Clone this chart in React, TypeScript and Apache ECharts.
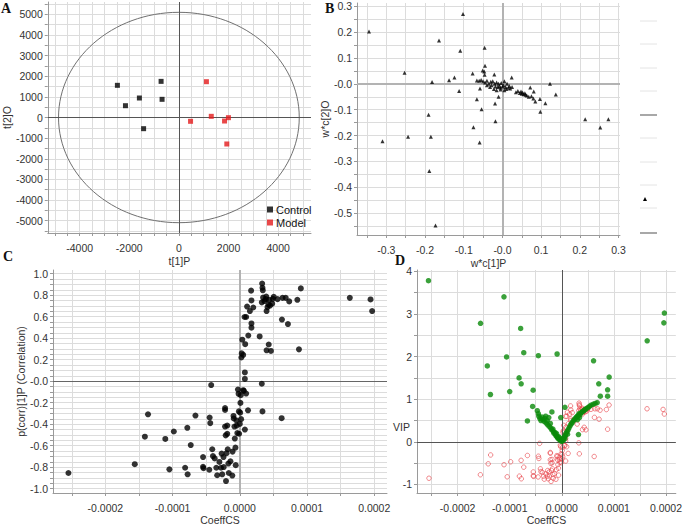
import React, { useEffect, useRef } from "react";
import * as echarts from "echarts";

// ---------- Panel A: OPLS-DA scores ----------
const controlScores: number[][] = [
  [-2478, 1560], [-2153, 572], [-1592, 945], [-717, 1752], [-678, 881], [-1422, -542],
];
const modelScores: number[][] = [
  [1109, 1736], [470, -185], [1305, 57], [1840, -170], [1996, -8], [1931, -1284],
];
const ellipseRadii = [4850, 5100];
const aXLabels = [-4000, -2000, 0, 2000, 4000];
const aYLabels = [-5000, -4000, -3000, -2000, -1000, 0, 1000, 2000, 3000, 4000, 5000];

// ---------- Panel B: loadings w*c ----------
const loadings: number[][] = [
  [-0.345, 0.203], [-0.102, 0.27], [-0.164, 0.168], [-0.109, 0.128], [-0.046, 0.14],
  [-0.253, 0.043], [-0.182, 0.007], [-0.138, 0.014], [-0.124, 0.025], [-0.112, -0.028],
  [-0.077, 0.04], [-0.045, 0.07], [-0.051, 0.052], [-0.047, 0.048], [-0.046, 0.035],
  [-0.066, 0.013], [-0.058, -0.018], [-0.066, -0.06], [-0.054, -0.098], [-0.01, -0.05],
  [-0.019, -0.076], [-0.018, -0.145], [-0.075, -0.168], [-0.059, -0.227], [-0.191, -0.12],
  [-0.244, -0.205], [-0.185, -0.205], [-0.31, -0.222], [-0.189, -0.337], [-0.173, -0.548],
  [-0.021, 0.036], [0.024, 0.025], [0.123, 0.0], [0.138, -0.041], [0.072, -0.014],
  [0.081, -0.03], [0.097, -0.059], [0.111, -0.075], [0.098, -0.108], [0.085, -0.068],
  [0.08, -0.057], [0.214, -0.137], [0.253, -0.169], [0.274, -0.137],
  [-0.06, 0.012], [-0.055, 0.015], [-0.05, 0.01], [-0.045, 0.005], [-0.04, 0.012],
  [-0.035, 0.0], [-0.03, 0.008], [-0.028, -0.005], [-0.025, 0.01], [-0.02, 0.0],
  [-0.018, -0.01], [-0.015, 0.005], [-0.012, -0.012], [-0.01, 0.0], [-0.008, -0.008],
  [-0.005, -0.015], [-0.003, 0.003], [0.0, -0.01], [0.003, -0.005], [0.005, 0.01],
  [0.008, -0.012], [0.01, -0.02], [0.012, 0.0], [0.015, -0.015], [0.018, -0.008],
  [0.02, -0.018], [0.025, -0.012], [-0.04, -0.005], [-0.032, -0.012], [-0.022, -0.02],
  [-0.015, -0.025], [-0.005, -0.022], [0.005, -0.025],
  [0.035, -0.032], [0.04, -0.028], [0.045, -0.035], [0.048, -0.03], [0.05, -0.038],
  [0.052, -0.033], [0.055, -0.04], [0.058, -0.036], [0.06, -0.042], [0.063, -0.045],
  [0.068, -0.05], [0.075, -0.048],
];
const bXLabels = [-0.3, -0.2, -0.1, 0, 0.1, 0.2, 0.3];
const bYLabels = [-0.5, -0.4, -0.3, -0.2, -0.1, 0, 0.1, 0.2, 0.3];

// ---------- Panel C: S-plot (CoeffCS, p(corr)[1]P) ----------
const sPlot: number[][] = [
  [-2.55e-4, -0.854], [-1.563e-4, -0.772], [-1.413e-4, -0.516], [-1.366e-4, -0.308],
  [-1.109e-4, -0.537], [-1.048e-4, -0.82], [-0.982e-4, -0.468], [-0.814e-4, -0.805],
  [-0.777e-4, -0.866], [-0.781e-4, -0.434], [-0.73e-4, -0.594], [-0.66e-4, -0.32],
  [-0.547e-4, -0.706], [-0.547e-4, -0.796], [-0.54e-4, -0.81], [-0.454e-4, -0.824],
  [-0.449e-4, -0.338], [-0.44e-4, -0.39], [-0.426e-4, -0.036], [-0.41e-4, -0.633],
  [-0.4e-4, -0.697], [-0.374e-4, -0.718], [-0.35e-4, -0.805], [-0.337e-4, -0.875],
  [-0.304e-4, -0.751], [-0.28e-4, -0.805], [-0.271e-4, -0.673], [-0.262e-4, -0.866],
  [-0.243e-4, -0.706], [-0.239e-4, -0.799], [-0.22e-4, -0.25], [-0.22e-4, -0.268],
  [-0.22e-4, -0.422], [-0.21e-4, -0.504], [-0.206e-4, -0.929], [-0.197e-4, -0.67],
  [-0.187e-4, -0.413], [-0.187e-4, -0.49], [-0.18e-4, -0.633], [-0.17e-4, -0.766],
  [-0.164e-4, -0.854], [-0.14e-4, -0.745], [-0.112e-4, -0.878], [-0.108e-4, -0.655],
  [-0.094e-4, -0.323], [-0.09e-4, -0.347], [-0.08e-4, -0.422], [-0.075e-4, -0.534],
  [-0.065e-4, -0.618], [-0.061e-4, -0.781], [-0.05e-4, -0.365], [-0.047e-4, -0.413],
  [-0.037e-4, -0.483], [-0.028e-4, -0.078], [-0.019e-4, -0.118], [-0.014e-4, -0.281],
  [-0.01e-4, -0.489], [0.0, -0.398], [0.005e-4, -0.293], [0.009e-4, -0.202],
  [0.014e-4, -0.13], [0.019e-4, -0.353], [0.028e-4, 0.259], [0.023e-4, 0.22],
  [0.037e-4, 0.386], [0.05e-4, 0.244], [0.05e-4, -0.084], [0.06e-4, -0.09],
  [0.075e-4, -0.45], [0.075e-4, 0.021], [0.075e-4, 0.081], [0.08e-4, 0.344],
  [0.07e-4, 0.597], [0.094e-4, 0.597], [0.094e-4, -0.115], [0.108e-4, 0.694],
  [0.122e-4, -0.271], [0.126e-4, 0.425], [0.15e-4, 0.652], [0.168e-4, 0.842],
  [0.173e-4, 0.751], [0.173e-4, 0.537], [0.173e-4, 0.498], [0.2e-4, 0.685],
  [0.295e-4, 0.416], [0.327e-4, -0.024], [0.337e-4, -0.281], [0.332e-4, 0.908],
  [0.337e-4, 0.869], [0.342e-4, 0.845], [0.327e-4, 0.733], [0.346e-4, 0.778],
  [0.365e-4, 0.745], [0.388e-4, 0.763], [0.393e-4, 0.787], [0.398e-4, 0.652],
  [0.398e-4, 0.287], [0.412e-4, 0.688], [0.426e-4, 0.712], [0.43e-4, 0.341],
  [0.435e-4, 0.757], [0.449e-4, 0.703], [0.463e-4, 0.281], [0.482e-4, 0.721],
  [0.491e-4, 0.766], [0.505e-4, 0.784], [0.561e-4, 0.763], [0.627e-4, 0.573],
  [0.622e-4, -0.344], [0.636e-4, 0.775], [0.683e-4, 0.775], [0.716e-4, 0.531],
  [0.735e-4, 0.742], [0.856e-4, 0.757], [0.88e-4, 0.296], [0.908e-4, 0.863],
  [1.637e-4, 0.775], [1.945e-4, 0.76], [1.969e-4, 0.652],
];
const cXLabels = [-2e-4, -1e-4, 0, 1e-4, 2e-4];
const cYLabels = [-1, -0.8, -0.6, -0.4, -0.2, 0, 0.2, 0.4, 0.6, 0.8, 1];

// ---------- Panel D: VIP vs CoeffCS ----------
const vipPoints: number[][] = [
  [-2.56e-4, 3.78], [-1.56e-4, 2.78], [-1.11e-4, 3.4], [-1.43e-4, 1.78], [-1.37e-4, 1.11],
  [-1.06e-4, 1.99], [-1.0e-4, 1.18], [-0.79e-4, 2.66], [-0.82e-4, 1.5], [-0.78e-4, 1.36],
  [-0.73e-4, 2.09], [-0.55e-4, 1.21], [-0.45e-4, 2.02], [-0.09e-4, 2.06], [-0.56e-4, 0.83],
  [-0.66e-4, 0.49], [0.61e-4, 1.9], [0.71e-4, 1.36], [0.74e-4, 1.07], [0.91e-4, 1.52],
  [0.88e-4, 1.22], [0.88e-4, 1.07], [1.64e-4, 2.37], [1.97e-4, 3.02], [1.96e-4, 2.79],
  [0.32e-4, 0.17], [0.06e-4, 0.81], [-0.02e-4, 0.57],
  [-0.47e-4, 0.73], [-0.45e-4, 0.66], [-0.44e-4, 0.6], [-0.42e-4, 0.55], [-0.4e-4, 0.5],
  [-0.38e-4, 0.58], [-0.36e-4, 0.52], [-0.34e-4, 0.48], [-0.33e-4, 0.55], [-0.31e-4, 0.6],
  [-0.3e-4, 0.44], [-0.28e-4, 0.5], [-0.27e-4, 0.4], [-0.25e-4, 0.57], [-0.24e-4, 0.36],
  [-0.22e-4, 0.43], [-0.21e-4, 0.32], [-0.19e-4, 0.7], [-0.19e-4, 0.28], [-0.17e-4, 0.3],
  [-0.16e-4, 0.24], [-0.15e-4, 0.2], [-0.13e-4, 0.22], [-0.12e-4, 0.17], [-0.11e-4, 0.14],
  [-0.1e-4, 0.19], [-0.09e-4, 0.12], [-0.08e-4, 0.1], [-0.07e-4, 0.08], [-0.06e-4, 0.12],
  [-0.05e-4, 0.06], [-0.04e-4, 0.09], [-0.03e-4, 0.04], [-0.02e-4, 0.05], [-0.01e-4, 0.02],
  [0.0, 0.01], [0.01e-4, 0.03], [0.02e-4, 0.06], [0.03e-4, 0.04], [0.04e-4, 0.09],
  [0.05e-4, 0.12], [0.06e-4, 0.08], [0.07e-4, 0.15], [0.08e-4, 0.2], [0.1e-4, 0.24],
  [0.11e-4, 0.18], [0.12e-4, 0.28], [0.14e-4, 0.33], [0.16e-4, 0.38], [0.18e-4, 0.42],
  [0.2e-4, 0.45], [0.22e-4, 0.49], [0.24e-4, 0.52], [0.26e-4, 0.55], [0.28e-4, 0.58],
  [0.3e-4, 0.6], [0.32e-4, 0.62], [0.33e-4, 0.66], [0.35e-4, 0.64], [0.37e-4, 0.68],
  [0.39e-4, 0.7], [0.41e-4, 0.72], [0.43e-4, 0.74], [0.45e-4, 0.76], [0.47e-4, 0.78],
  [0.5e-4, 0.8], [0.53e-4, 0.83], [0.56e-4, 0.86], [0.6e-4, 0.88], [0.64e-4, 0.9],
  [0.68e-4, 0.92], [0.3e-4, 0.52], [0.34e-4, 0.57],
];
const dXLabels = [-2e-4, -1e-4, 0, 1e-4, 2e-4];
const dYLabels = [-1, 0, 1, 2, 3, 4];

// ---------- helpers (axis grid positions, not data) ----------
const steps = (from: number, to: number, step: number, digits: number) => {
  const out: number[] = [];
  const n = Math.round((to - from) / step);
  for (let i = 0; i <= n; i++) out.push(Number((from + i * step).toFixed(digits)));
  return out;
};

const FONT = "Liberation Sans, Arial, sans-serif";
const GRID_LINE = "#dcdcdc";
const AXIS_LINE = "#9a9a9a";

function makeAxis(opts: {
  gridIndex: number;
  min: number;
  max: number;
  grid: number[];
  labels: number[];
  fmt: (v: number) => string;
  name?: string;
  nameGap?: number;
  isY?: boolean;
}) {
  return {
    type: "value",
    gridIndex: opts.gridIndex,
    min: opts.min,
    max: opts.max,
    name: opts.name ?? "",
    nameLocation: "middle",
    nameGap: opts.nameGap ?? 20,
    nameTextStyle: { fontFamily: FONT, fontSize: 10.5, color: "#333" },
    axisLine: { show: true, onZero: false, lineStyle: { color: AXIS_LINE, width: 1 } },
    axisTick: { show: true, length: 3, customValues: opts.grid, lineStyle: { color: AXIS_LINE } },
    axisLabel: {
      show: true,
      customValues: opts.labels,
      formatter: opts.fmt,
      fontFamily: FONT,
      fontSize: 10.5,
      color: "#333",
      margin: opts.isY ? 5 : 9,
      showMinLabel: true,
      showMaxLabel: true,
      hideOverlap: false,
    },
    splitLine: { show: true, lineStyle: { color: GRID_LINE, width: 1 } },
  };
}

const cross = (color: string, width: number, vertical: boolean, horizontal: boolean) => {
  const data: any[] = [];
  if (vertical) data.push({ xAxis: 0, lineStyle: { color, width, type: "solid" } });
  if (horizontal) data.push({ yAxis: 0, lineStyle: { color, width, type: "solid" } });
  return data;
};

export default function App() {
  const ref = useRef<HTMLDivElement>(null);
  useEffect(() => {
    if (!ref.current) return;
    const chart = echarts.init(ref.current, undefined, { renderer: "svg" });

    const fmtInt = (v: number) => String(Math.round(v));
    const fmtB = (v: number) => (Math.abs(v) < 1e-9 ? "-0.0" : v.toFixed(1));
    const fmtCoeff = (v: number) => (Math.abs(v) < 1e-12 ? "0.0000" : v.toFixed(4));

    const markLineBase = {
      silent: true,
      symbol: ["none", "none"],
      label: { show: false },
      lineStyle: { type: "solid" },
      emphasis: { disabled: true },
      animation: false,
    };

    const option: any = {
      animation: false,
      backgroundColor: "#ffffff",
      grid: [
        { left: 40, top: 2, width: 271, height: 231 },
        { left: 357, top: 3, width: 263, height: 232 },
        { left: 34, top: 270, width: 353, height: 229 },
        { left: 417, top: 270, width: 266, height: 233 },
      ],
      xAxis: [
        makeAxis({ gridIndex: 0, min: -5284, max: 5323, grid: steps(-5000, 5000, 500, 0), labels: aXLabels, fmt: fmtInt, name: "t[1]P", nameGap: 22 }),
        makeAxis({ gridIndex: 1, min: -0.376, max: 0.304, grid: steps(-0.35, 0.3, 0.05, 2), labels: bXLabels, fmt: fmtB, name: "w*c[1]P", nameGap: 22 }),
        makeAxis({ gridIndex: 2, min: -2.78e-4, max: 2.19e-4, grid: steps(-2.5e-4, 2e-4, 0.5e-4, 6), labels: cXLabels, fmt: fmtCoeff, name: "CoeffCS", nameGap: 21 }),
        makeAxis({ gridIndex: 3, min: -2.78e-4, max: 2.19e-4, grid: steps(-2.5e-4, 2e-4, 0.5e-4, 6), labels: dXLabels, fmt: fmtCoeff, name: "CoeffCS", nameGap: 21 }),
      ],
      yAxis: [
        makeAxis({ gridIndex: 0, min: -5600, max: 5600, grid: steps(-5500, 5500, 500, 0), labels: aYLabels, fmt: fmtInt, name: "t[2]O", nameGap: 30, isY: true }),
        makeAxis({ gridIndex: 1, min: -0.585, max: 0.313, grid: steps(-0.55, 0.3, 0.05, 2), labels: bYLabels, fmt: fmtB, name: "w*c[2]O", nameGap: 22, isY: true }),
        makeAxis({ gridIndex: 2, min: -1.04, max: 1.034, grid: steps(-1, 1, 0.05, 2), labels: cYLabels, fmt: fmtB, name: "p(corr)[1]P (Correlation)", nameGap: 22, isY: true }),
        makeAxis({ gridIndex: 3, min: -1.2, max: 4.03, grid: steps(-1, 4, 0.5, 1), labels: dYLabels, fmt: fmtInt, isY: true }),
      ],
      legend: {
        data: [
          { name: "Control", icon: "rect", itemStyle: { color: "#000" } },
          { name: "Model", icon: "rect", itemStyle: { color: "#e41a1c" } },
        ],
        orient: "vertical",
        left: 267,
        top: 204,
        itemWidth: 6,
        itemHeight: 6,
        itemGap: 2,
        padding: 0,
        textStyle: { fontFamily: FONT, fontSize: 11, color: "#111", padding: [0, 0, 0, -2] },
        selectedMode: false,
      },
      series: [
        {
          type: "custom",
          name: "ellipse",
          xAxisIndex: 0,
          yAxisIndex: 0,
          silent: true,
          data: [[0, 0, ellipseRadii[0], ellipseRadii[1]]],
          renderItem: (params: any, api: any) => {
            const c = api.coord([api.value(0), api.value(1)]);
            const ex = api.coord([api.value(2), 0]);
            const ey = api.coord([0, api.value(3)]);
            return {
              type: "ellipse",
              shape: { cx: c[0], cy: c[1], rx: Math.abs(ex[0] - c[0]), ry: Math.abs(c[1] - ey[1]) },
              style: { fill: "none", stroke: "#707070", lineWidth: 1 },
            };
          },
          markLine: { ...markLineBase, data: cross("#555", 1, true, true) },
          z: 3,
        },
        {
          type: "scatter",
          name: "Control",
          xAxisIndex: 0,
          yAxisIndex: 0,
          symbol: "rect",
          symbolSize: 5,
          itemStyle: { color: "#000" },
          data: controlScores,
          z: 5,
        },
        {
          type: "scatter",
          name: "Model",
          xAxisIndex: 0,
          yAxisIndex: 0,
          symbol: "rect",
          symbolSize: 5,
          itemStyle: { color: "#e41a1c" },
          data: modelScores,
          z: 5,
        },
        {
          type: "scatter",
          name: "loadings",
          xAxisIndex: 1,
          yAxisIndex: 1,
          symbol: "triangle",
          symbolSize: 4,
          itemStyle: { color: "#000" },
          data: loadings,
          markLine: { ...markLineBase, data: cross("#b3b3b3", 2, true, true) },
          z: 5,
        },
        {
          type: "scatter",
          name: "splot",
          xAxisIndex: 2,
          yAxisIndex: 2,
          symbol: "circle",
          symbolSize: 6,
          itemStyle: { color: "#000" },
          data: sPlot,
          markLine: {
            ...markLineBase,
            data: [...cross("#b3b3b3", 2, true, false), ...cross("#666", 1, false, true)],
          },
          z: 5,
        },
        {
          type: "scatter",
          name: "pcorr",
          xAxisIndex: 3,
          yAxisIndex: 3,
          symbol: "circle",
          symbolSize: 4.5,
          itemStyle: { color: "rgba(255,255,255,0)", borderColor: "#e8434a", borderWidth: 0.8 },
          data: sPlot,
          markLine: { ...markLineBase, data: cross("#555", 1, true, true) },
          z: 4,
        },
        {
          type: "scatter",
          name: "VIP",
          xAxisIndex: 3,
          yAxisIndex: 3,
          symbol: "circle",
          symbolSize: 5.5,
          itemStyle: { color: "#0a8a0a" },
          data: vipPoints,
          z: 5,
        },
      ],
      graphic: [
        { type: "text", left: 1, top: 1, style: { text: "A", font: "bold 14px 'Liberation Serif', serif", fill: "#111" } },
        { type: "text", left: 325, top: 1, style: { text: "B", font: "bold 14px 'Liberation Serif', serif", fill: "#111" } },
        { type: "text", left: 3, top: 249, style: { text: "C", font: "bold 14px 'Liberation Serif', serif", fill: "#111" } },
        { type: "text", left: 395, top: 253, style: { text: "D", font: "bold 14px 'Liberation Serif', serif", fill: "#111" } },
        { type: "text", x: 410, y: 427, style: { text: "VIP", font: `10.5px ${FONT}`, fill: "#333", align: "right", verticalAlign: "middle" } },
        // remnants of the cropped legend at the right of panel B
        ...[21, 44, 68, 91, 138, 162, 185, 208].map((y) => ({
          type: "line",
          shape: { x1: 640, y1: y, x2: 657, y2: y },
          style: { stroke: "#e4e4e4", lineWidth: 1 },
        })),
        ...[115, 233].map((y) => ({
          type: "line",
          shape: { x1: 640, y1: y, x2: 657, y2: y },
          style: { stroke: "#a8a8a8", lineWidth: 2 },
        })),
        { type: "polygon", shape: { points: [[645, 197], [643, 201], [647, 201]] }, style: { fill: "#000" } },
      ],
    };

    chart.setOption(option);
    return () => chart.dispose();
  }, []);

  return (
    <div
      ref={ref}
      style={{ position: "fixed", left: 0, top: 0, width: 685, height: 526, background: "#fff" }}
    />
  );
}
